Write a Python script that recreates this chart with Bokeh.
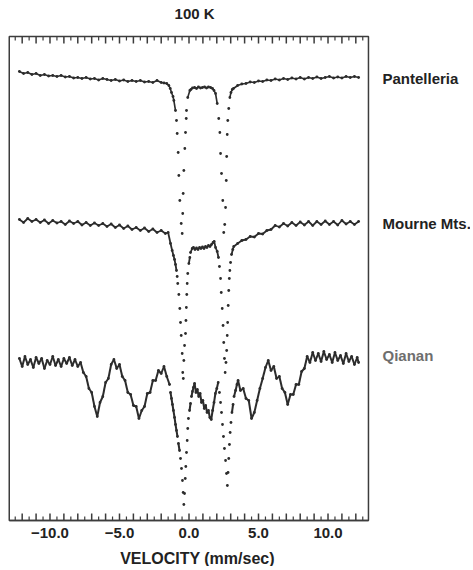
import numpy as np
from bokeh.plotting import figure
from bokeh.models import Label, LinearAxis, FixedTicker, Range1d
from bokeh.embed import file_html
from bokeh.resources import INLINE

# ---------------- data (velocity in mm/s, counts in arbitrary offset units) -------------
pan_vel = [-12.2, -11.9, -11.6, -11.3, -11.0, -10.7, -10.4, -10.1, -9.8, -9.5,
           -9.2, -8.9, -8.6, -8.3, -8.0, -7.7, -7.4, -7.1, -6.8, -6.5,
           -6.2, -5.9, -5.6, -5.3, -5.0, -4.7, -4.4, -4.1, -3.8, -3.5,
           -3.2, -2.9, -2.6, -2.3, -2.0, -1.8, -1.6, -1.45, -1.35, -1.26,
           -1.15, -1.09, -0.97, -0.90, -0.85, -0.78, -0.73, -0.66, -0.56, -0.49,
           -0.45, -0.42, -0.37, -0.30, -0.25, -0.20, -0.18, -0.09, 0.06, 0.14,
           0.25, 0.40, 0.54, 0.68, 0.83, 0.97, 1.12, 1.26, 1.40, 1.55,
           1.69, 1.80, 1.91, 2.03, 2.14, 2.22, 2.27, 2.34, 2.43, 2.50,
           2.57, 2.63, 2.68, 2.71, 2.75, 2.79, 2.86, 2.94, 3.02, 3.11,
           3.2, 3.5, 3.8, 4.1, 4.4, 4.7, 5.0, 5.3, 5.6, 5.9,
           6.2, 6.5, 6.8, 7.1, 7.4, 7.7, 8.0, 8.3, 8.6, 8.9,
           9.2, 9.5, 9.8, 10.1, 10.4, 10.7, 11.0, 11.3, 11.6, 11.9,
           12.2]
pan_cnt = [449, 447, 448, 446, 447, 445, 446, 444.5, 445, 444,
           445, 443.5, 444, 442.5, 443, 442, 443, 441.5, 442, 440.5,
           442, 441, 440, 441, 439.5, 440.5, 439, 440, 439, 440,
           438.5, 439, 438, 440, 438, 437.5, 437, 435, 432, 428,
           424, 420, 410, 400, 387, 368, 345, 320, 297, 287,
           307, 327, 350, 372, 388, 402, 410, 423, 430, 431,
           432.5, 433, 432, 433.5, 432.5, 433, 433.5, 432.5, 433.5, 433,
           432, 430, 427, 417, 402, 388, 367, 347, 320, 288,
           296, 313, 340, 364, 386, 400, 412, 423, 428, 431,
           432, 435, 436.5, 437, 438.5, 438, 439.5, 439, 440.5, 440,
           441.5, 440.5, 442, 441, 442.5, 441.5, 443, 441.5, 443, 442,
           443.5, 442, 443, 444, 442.5, 443.5, 442.5, 444, 443, 444,
           443]

mou_vel = [-12.2, -11.9, -11.6, -11.3, -11.0, -10.7, -10.4, -10.1, -9.8, -9.5,
           -9.2, -8.9, -8.6, -8.3, -8.0, -7.7, -7.4, -7.1, -6.8, -6.5,
           -6.2, -5.9, -5.6, -5.3, -5.0, -4.7, -4.4, -4.1, -3.8, -3.5,
           -3.2, -2.9, -2.6, -2.3, -2.0, -1.7, -1.5, -1.33, -1.21, -1.12,
           -1.04, -0.97, -0.90, -0.85, -0.81, -0.73, -0.66, -0.61, -0.56, -0.49,
           -0.45, -0.41, -0.37, -0.32, -0.25, -0.22, -0.19, -0.16, -0.13, -0.09,
           -0.01, 0.06, 0.11, 0.23, 0.32, 0.43, 0.54, 0.65, 0.76, 0.86,
           0.97, 1.08, 1.19, 1.29, 1.40, 1.51, 1.62, 1.73, 1.81, 1.91,
           2.03, 2.12, 2.19, 2.27, 2.32, 2.39, 2.45, 2.50, 2.55, 2.60,
           2.66, 2.71, 2.75, 2.78, 2.82, 2.86, 2.90, 2.94, 2.99, 3.06,
           3.15, 3.22, 3.5, 3.8, 4.1, 4.4, 4.7, 5.0, 5.3, 5.6,
           5.9, 6.2, 6.5, 6.8, 7.1, 7.4, 7.7, 8.0, 8.3, 8.6,
           8.9, 9.2, 9.5, 9.8, 10.1, 10.4, 10.7, 11.0, 11.3, 11.6,
           11.9, 12.2]
mou_cnt = [301, 298, 302, 299, 301, 298, 300.5, 297, 300, 297.5,
           299, 296, 299.5, 297, 299, 295.5, 298, 295, 297.5, 295,
           297, 294, 296.5, 293, 295.5, 292, 294.5, 291, 293, 290,
           292.5, 289, 291.5, 288, 290, 287, 288, 277, 270, 265,
           261, 256, 250, 244, 237, 226, 212, 198, 185, 167,
           148, 142, 160, 175, 187, 200, 213, 226, 237, 247,
           257, 263, 268, 272, 273, 271, 272.5, 271, 273, 272,
           273.5, 272, 274, 273, 275, 274, 276, 278, 279, 273,
           269, 263, 254, 242, 228, 212, 195, 178, 162, 148,
           158, 170, 185, 198, 215, 230, 242, 250, 258, 266,
           271, 274, 277, 280, 281, 284, 283.5, 287, 286.5, 290,
           291, 295, 293.5, 297, 294.5, 298, 295, 298.5, 295.5, 299,
           295, 299, 296, 299.5, 296, 299, 295.5, 300, 296.5, 299,
           296, 299]

qia_vel = [-12.2, -12.0, -11.8, -11.6, -11.4, -11.2, -11.0, -10.8, -10.6, -10.4,
           -10.2, -10.0, -9.8, -9.6, -9.4, -9.2, -9.0, -8.8, -8.6, -8.4,
           -8.2, -8.0, -7.8, -7.6, -7.4, -7.2, -7.0, -6.8, -6.6, -6.4,
           -6.2, -6.0, -5.8, -5.6, -5.4, -5.2, -5.0, -4.8, -4.6, -4.4,
           -4.2, -4.0, -3.8, -3.6, -3.4, -3.2, -3.0, -2.8, -2.6, -2.4,
           -2.2, -2.0, -1.8, -1.6, -1.4, -1.33, -1.26, -1.19, -1.12, -1.04,
           -0.97, -0.90, -0.83, -0.76, -0.68, -0.61, -0.54, -0.47, -0.42, -0.37,
           -0.32, -0.27, -0.23, -0.18, -0.13, -0.09, -0.04, 0.04, 0.11, 0.18,
           0.25, 0.32, 0.4, 0.5, 0.6, 0.7, 0.8, 0.9, 1.0, 1.1,
           1.2, 1.3, 1.4, 1.5, 1.6, 1.7, 1.8, 1.9, 2.0, 2.1,
           2.19, 2.27, 2.34, 2.41, 2.48, 2.55, 2.63, 2.70, 2.76, 2.81,
           2.86, 2.91, 2.96, 3.02, 3.09, 3.17, 3.24, 3.35, 3.45, 3.53,
           3.7, 3.9, 4.1, 4.3, 4.5, 4.7, 4.9, 5.1, 5.3, 5.5,
           5.7, 5.9, 6.1, 6.3, 6.5, 6.7, 6.9, 7.1, 7.3, 7.5,
           7.7, 7.9, 8.1, 8.3, 8.5, 8.7, 8.9, 9.1, 9.3, 9.5,
           9.7, 9.9, 10.1, 10.3, 10.5, 10.7, 10.9, 11.1, 11.3, 11.5,
           11.7, 11.9, 12.1, 12.2]
qia_cnt = [162, 154, 164, 156, 161, 153, 163, 157, 162, 152,
           160, 156, 164, 155, 161, 154, 162, 157, 163, 155,
           161, 154, 158, 148, 144, 132, 128, 114, 104, 118,
           124, 138, 142, 156, 161, 152, 156, 144, 140, 128,
           126, 115, 114, 102, 110, 114, 127, 128, 140, 140,
           150, 147, 154, 144, 136, 128, 122, 116, 110, 103,
           96, 90, 84, 77, 70, 62, 52, 40, 28, 16,
           27, 42, 54, 68, 80, 92, 102, 110, 117, 124,
           129, 133, 137, 128, 131, 124, 127, 118, 120, 112,
           115, 108, 110, 103, 101, 110, 118, 127, 132, 138,
           128, 118, 108, 96, 84, 72, 60, 47, 35, 48,
           62, 76, 88, 98, 108, 116, 124, 130, 136, 140,
           130, 132, 122, 120, 102, 108, 120, 132, 142, 153,
           160, 150, 154, 142, 144, 132, 128, 116, 126, 126,
           136, 136, 149, 152, 164, 158, 168, 160, 167, 159,
           169, 161, 166, 158, 168, 160, 165, 157, 167, 159,
           164, 156, 163, 158]

spectrum_names = ["Pantelleria", "Mourne Mts.", "Qianan"]
name_levels = [442.5, 297, 165]
name_colors = ["#222222", "#222222", "#6e6e6e"]
major_ticks = list(range(-12, 13))
minor_ticks = [m + 0.5 for m in range(-13, 13)]
tick_text = {-10: "\u221210.0", -5: "\u22125.0", 0: "0.0", 5: "5.0", 10: "10.0"}
title_text = "100 K"
xlabel_text = "VELOCITY (mm/sec)"

for a, b in [(pan_vel, pan_cnt), (mou_vel, mou_cnt), (qia_vel, qia_cnt)]:
    assert len(a) == len(b), (len(a), len(b))

# ---------------- layout -------------
INK = "#2c2c2c"
FRAME = "#3c3c3c"
TXT = "#222222"
FONT = "Liberation Sans"
V_LO, V_HI = -12.93, 12.91          # plotted velocity window (box edges)
C_LO, C_HI = 0, 484                 # count window (box edges)
MAJ_LEN, MIN_LEN = 7, 4             # inward tick lengths (count units == px here)

p = figure(width=470, height=566,
           x_range=Range1d(-13.56, 20.25), y_range=Range1d(-46, 520),
           output_backend="svg", toolbar_location=None,
           x_axis_location=None, y_axis_location=None,
           min_border=0, min_border_left=0, min_border_right=0,
           min_border_top=0, min_border_bottom=0)
p.grid.visible = False
p.outline_line_color = None
p.background_fill_color = "white"
p.border_fill_color = "white"

# inward ticks on the bottom and top edges of the box
maj = [float(t) for t in major_ticks]
mnr = [float(m) for m in minor_ticks if V_LO < m < V_HI]
for edge, sign in [(C_LO, 1), (C_HI, -1)]:
    p.segment(x0=maj, y0=[edge] * len(maj), x1=maj, y1=[edge + sign * MAJ_LEN] * len(maj),
              line_color=FRAME, line_width=1.5)
    p.segment(x0=mnr, y0=[edge] * len(mnr), x1=mnr, y1=[edge + sign * MIN_LEN] * len(mnr),
              line_color=FRAME, line_width=1.2)

# box around the spectra
p.quad(left=[V_LO], right=[V_HI], bottom=[C_LO], top=[C_HI],
       fill_color=None, line_color=FRAME, line_width=1.5)

# bottom axis carries the tick labels
ticker = FixedTicker(ticks=major_ticks, minor_ticks=[])
overrides = {t: tick_text.get(t, "") for t in major_ticks}
bottom = LinearAxis(ticker=ticker, bounds=(V_LO, V_HI), fixed_location=C_LO,
                    major_label_overrides=overrides,
                    major_tick_in=0, major_tick_out=0, minor_tick_in=0, minor_tick_out=0,
                    axis_line_color=FRAME, axis_line_width=1.5,
                    major_label_text_font=FONT, major_label_text_font_style="bold",
                    major_label_text_font_size="15px", major_label_text_color=TXT,
                    major_label_standoff=7)
p.add_layout(bottom, "below")

for vel, cnt, lw in [(pan_vel, pan_cnt, 1.6), (mou_vel, mou_cnt, 1.8), (qia_vel, qia_cnt, 2.0)]:
    v = np.asarray(vel, dtype=float)
    c = np.asarray(cnt, dtype=float)
    slope = np.abs(np.diff(c)) / np.diff(v)
    join = slope < 100
    p.segment(x0=v[:-1][join], y0=c[:-1][join], x1=v[1:][join], y1=c[1:][join],
              line_width=lw, line_color=INK)
    p.scatter(v, c, size=2.8, color=INK, line_color=None)

for name, lvl, col in zip(spectrum_names, name_levels, name_colors):
    p.add_layout(Label(x=13.92, y=lvl, text=name, text_align="left", text_baseline="middle",
                       text_font=FONT, text_font_style="bold", text_font_size="15px",
                       text_color=col))

p.add_layout(Label(x=0.4, y=507, text=title_text, text_align="center", text_baseline="middle",
                   text_font=FONT, text_font_style="bold", text_font_size="15px",
                   text_color=TXT))
p.add_layout(Label(x=0.61, y=-38, text=xlabel_text, text_align="center",
                   text_baseline="middle", text_font=FONT, text_font_style="bold",
                   text_font_size="16px", text_color=TXT))

open("out.html", "w").write(file_html(p, INLINE))
